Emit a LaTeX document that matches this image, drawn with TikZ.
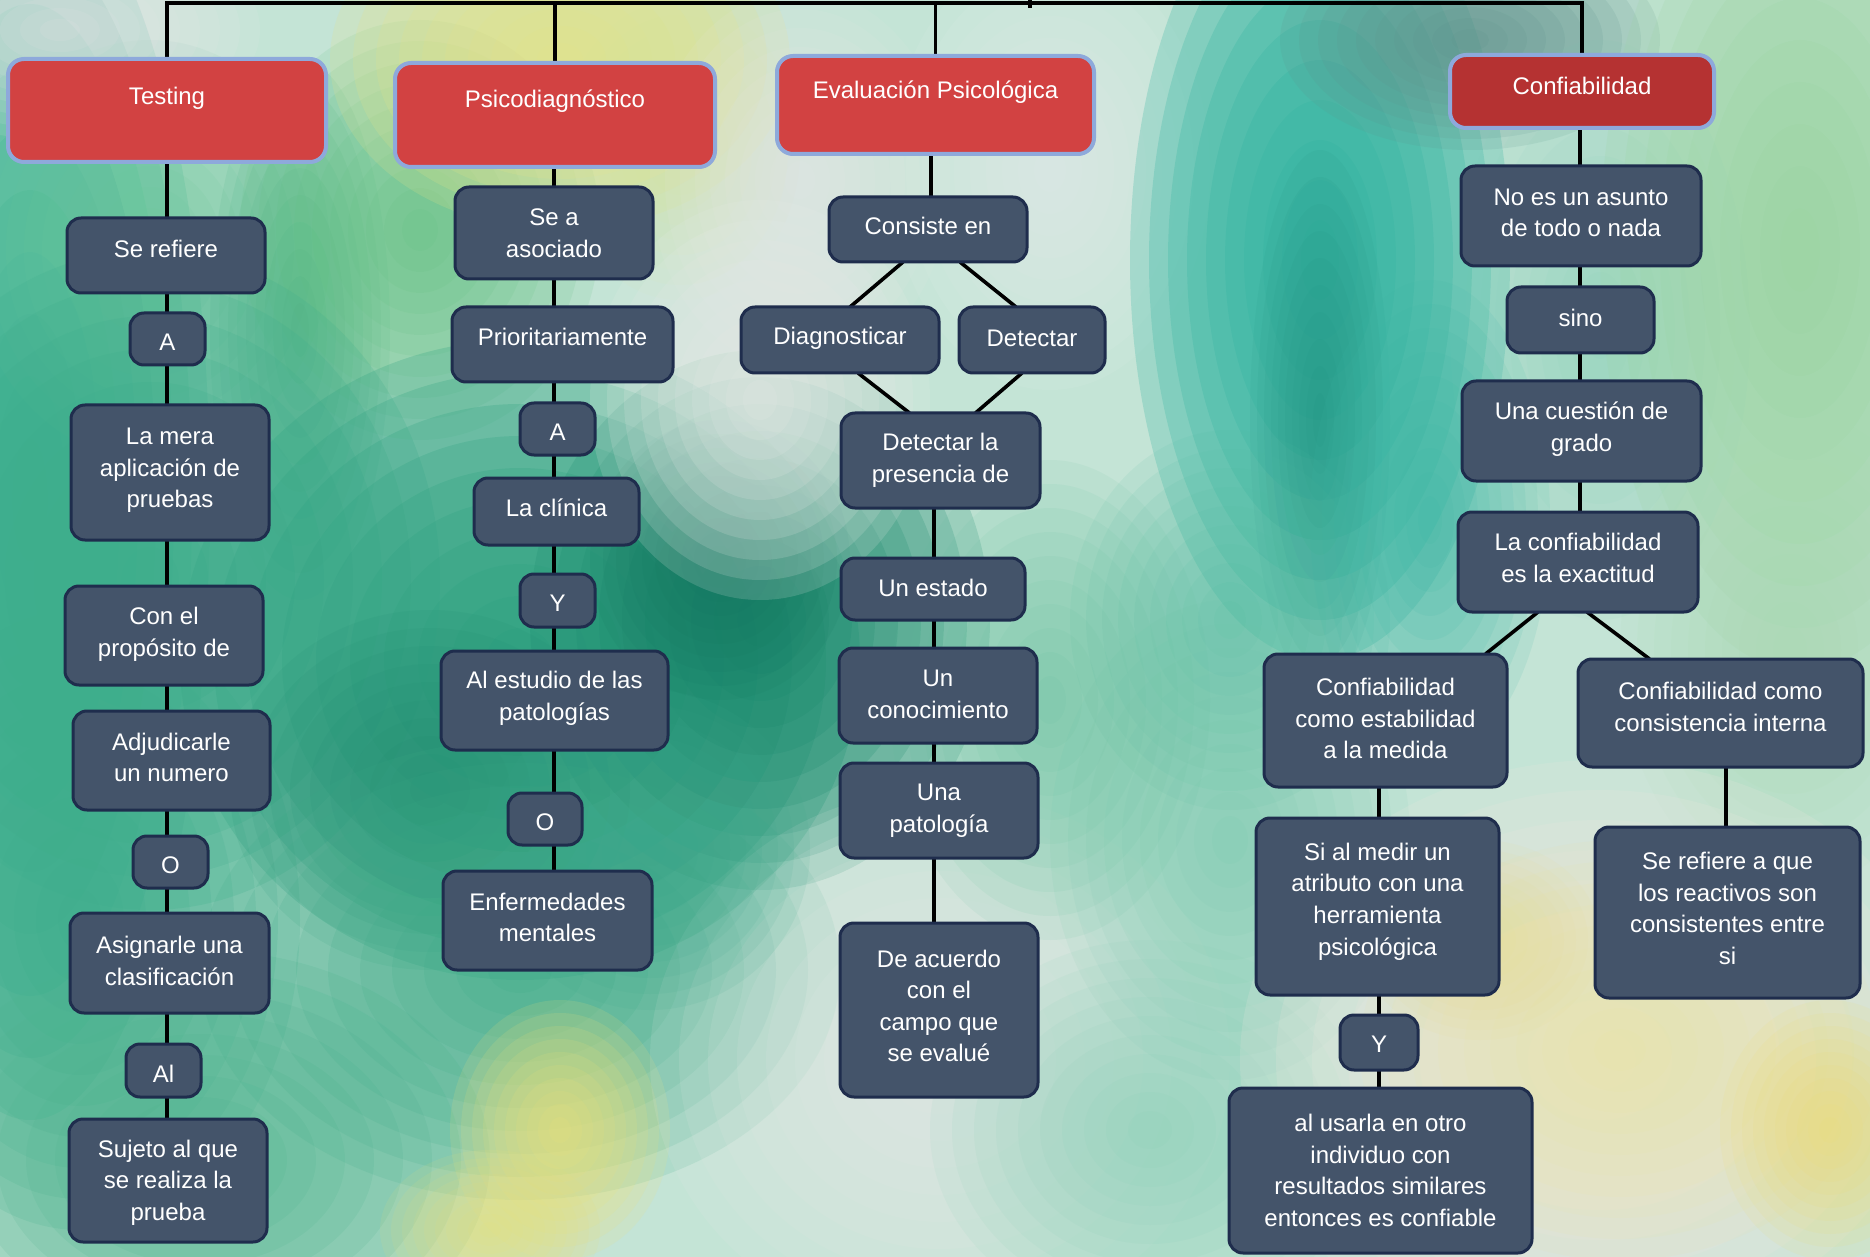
\documentclass[tikz,border=0pt]{standalone}
\usepackage{fontspec}
\setmainfont{Liberation Sans}
\usetikzlibrary{calc}
\pgfdeclarelayer{back}
\pgfdeclarelayer{lines}
\pgfsetlayers{back,lines,main}
\definecolor{boxfill}{HTML}{44546A}
\definecolor{boxline}{HTML}{1F2D4D}
\definecolor{redfill}{HTML}{D24242}
\definecolor{redfillB}{HTML}{B53232}
\definecolor{redline}{HTML}{8EA9DB}
\definecolor{bgbase}{HTML}{C4E4D6}
\tikzset{
  dbox/.style={draw=boxline, line width=1.5pt, fill=boxfill, rounded corners=7pt,
    inner sep=0pt, outer sep=0pt},
  dtext/.style={text=white, align=center, inner sep=0pt,
    font=\fontsize{12}{15.8}\selectfont},
  rbox/.style={draw=redline, line width=2pt, fill=redfill, rounded corners=8pt,
    inner sep=0pt, outer sep=0pt},
  htext/.style={text=white, font=\fontsize{12}{15.8}\selectfont, anchor=center, inner sep=0pt},
  conn/.style={draw=black, line width=1.8pt},
}
% name, x1, y1, x2, y2, text, vertical text shift (px, down positive)
\newcommand\mkbox[7]{%
  \node[dbox, minimum width={(#4-#2)*0.5pt}, minimum height={(#5-#3)*0.5pt}]
    (#1) at ({(#2+#4)/2},{(#3+#5)/2}) {};
  \node[dtext] (#1t) at ($(#1.center)+(0,#7)$) {#6};}
% name, x1, y1, x2, y2, fill, text, text offset from top
\newcommand\mkred[8]{%
  \node[rbox, fill=#6, minimum width={(#4-#2)*0.5pt}, minimum height={(#5-#3)*0.5pt},
    label={[htext, yshift={-#8*0.5pt}]north:#7}]
    (#1) at ({(#2+#4)/2},{(#3+#5)/2}) {};}
\newcommand\vlink[3]{\draw[conn] (#1.south -| #3) -- (#2.north -| #3);}
\begin{document}
\begin{tikzpicture}[x=0.5pt,y=-0.5pt]
\useasboundingbox (0,0) rectangle (1870,1257);
\begin{pgfonlayer}{back}
\fill[bgbase] (0,0) rectangle (1870,1257);
\begin{scope}
\clip (0,0) rectangle (1870,1257);
\foreach \x/\y/\a/\b/\c/\o in {
  30/500/180/620/3DB495/0.95,
  150/250/180/210/6CC79A/0.7,
  300/330/90/270/3FAE7E/0.7,
  420/230/180/210/5FC07E/0.75,
  560/60/230/170/E3E28A/0.9,
  680/150/120/150/D8E39A/0.55,
  60/30/200/110/ECE6EA/0.7,
  150/580/290/330/3EAE8C/0.9,
  80/920/220/310/3EAE8C/0.85,
  200/1160/290/210/4DB48E/0.8,
  520/660/340/320/2FA382/0.95,
  760/620/230/270/1A8A6E/0.9,
  720/560/130/140/13735E/0.65,
  430/790/200/180/1F8C70/0.7,
  520/970/320/230/3AAA86/0.8,
  560/1130/110/130/EDE27A/0.8,
  490/1230/110/80/E8E07A/0.7,
  760/400/170/200/E6EAE6/0.85,
  800/180/150/190/ECE8EA/0.65,
  940/1060/290/270/E6E9E6/0.75,
  1050/170/160/220/E4EEEA/0.7,
  1320/260/190/400/33B5A2/0.95,
  1320/420/70/270/1E8F7E/0.6,
  1230/620/160/190/4DBBA0/0.65,
  1430/520/120/240/3BB7A5/0.7,
  1470/40/190/110/5E928C/0.8,
  1230/840/180/240/6CC6A8/0.6,
  1150/1130/220/190/7ECDB2/0.6,
  1600/330/150/290/7ACDB4/0.5,
  1800/250/200/420/9AD5A0/0.85,
  1790/650/170/240/A8D9B0/0.65,
  1600/1060/360/300/F0E8E0/0.85,
  1620/1050/260/210/EFE39A/0.6,
  1830/1130/110/130/EEDC70/0.7,
  1480/940/120/100/EADF8A/0.55,
  1050/700/160/240/5EBF9A/0.6,
  650/850/160/160/3AA68A/0.65%
}{
  \definecolor{blobc}{HTML}{\c}
  \pgfmathsetmacro\stepop{1-(1-\o)^(0.1)}
  \foreach \k in {1,...,10}{
    \fill[blobc, opacity=\stepop] (\x,\y) ellipse ({\a*\k/10} and {\b*\k/10});
  }
}
\end{scope}
\end{pgfonlayer}

% headers
\mkred{testing}{8}{59}{326}{162}{redfill}{Testing}{39}
\mkred{psico}{395}{63}{715}{167}{redfill}{Psicodiagnóstico}{38}
\mkred{eval}{777}{56}{1094}{154}{redfill}{Evaluación Psicológica}{36}
\mkred{conf}{1450}{55}{1714}{128}{redfillB}{Confiabilidad}{31}

% Testing column
\mkbox{serefiere}{67}{218}{265}{293}{Se refiere}{-7}
\mkbox{aT}{130}{313}{205}{365}{A}{3}
\mkbox{lamera}{71}{405}{269}{540}{La mera\\aplicación de\\pruebas}{-2}
\mkbox{conel}{65}{586}{263}{685}{Con el\\propósito de}{-1}
\mkbox{adjud}{73}{711}{270}{810}{Adjudicarle\\un numero}{-3}
\mkbox{oT}{133}{836}{208}{888}{O}{3}
\mkbox{asign}{70}{913}{269}{1013}{Asignarle una\\clasificación}{-2}
\mkbox{alT}{126}{1044}{201}{1097}{Al}{3}
\mkbox{sujeto}{69}{1119}{267}{1242}{Sujeto al que\\se realiza la\\prueba}{2}

% Psicodiagnostico column
\mkbox{seaso}{455}{187}{653}{279}{Se a\\asociado}{0}
\mkbox{prio}{452}{307}{673}{382}{Prioritariamente}{-8}
\mkbox{aP}{520}{403}{595}{455}{A}{3}
\mkbox{clinica}{474}{478}{639}{545}{La clínica}{-4}
\mkbox{yP}{520}{574}{595}{627}{Y}{3}
\mkbox{estudio}{441}{651}{668}{750}{Al estudio de las\\patologías}{-2}
\mkbox{oP}{508}{793}{582}{845}{O}{3}
\mkbox{enferm}{443}{871}{652}{970}{Enfermedades\\mentales}{-3}

% Evaluacion column
\mkbox{consiste}{829}{197}{1027}{262}{Consiste en}{-4}
\mkbox{diag}{741}{307}{939}{373}{Diagnosticar}{-2}
\mkbox{detectar}{959}{307}{1105}{373}{Detectar}{-2}
\mkbox{presencia}{841}{413}{1040}{508}{Detectar la\\presencia de}{0}
\mkbox{estado}{841}{558}{1025}{620}{Un estado}{-1}
\mkbox{conoc}{839}{648}{1037}{743}{Un\\conocimiento}{-1}
\mkbox{patol}{840}{763}{1038}{858}{Una\\patología}{0}
\mkbox{acuerdo}{840}{923}{1038}{1097}{De acuerdo\\con el\\campo que\\se evalué}{-4}

% Confiabilidad column
\mkbox{noes}{1461}{166}{1701}{266}{No es un asunto\\de todo o nada}{-3}
\mkbox{sino}{1507}{287}{1654}{353}{sino}{-2}
\mkbox{cuestion}{1462}{381}{1701}{481}{Una cuestión de\\grado}{-2}
\mkbox{laconf}{1458}{512}{1698}{612}{La confiabilidad\\es la exactitud}{-4}
\mkbox{estab}{1264}{654}{1507}{787}{Confiabilidad\\como estabilidad\\a la medida}{-2}
\mkbox{consist}{1578}{659}{1863}{767}{Confiabilidad como\\consistencia interna}{-6}
\mkbox{simedir}{1256}{818}{1499}{995}{Si al medir un\\atributo con una\\herramienta\\psicológica}{-5}
\mkbox{yC}{1340}{1015}{1418}{1070}{Y}{2}
\mkbox{alusarla}{1229}{1088}{1532}{1253}{al usarla en otro\\individuo con\\resultados similares\\entonces es confiable}{0}
\mkbox{serefa}{1595}{827}{1860}{998}{Se refiere a que\\los reactivos son\\consistentes entre\\si}{-4}

\coordinate (cT) at (167,0);
\coordinate (cP) at (554,0);
\coordinate (cE0) at (931,0);
\coordinate (cE) at (934,0);
\coordinate (cC) at (1580,0);
\coordinate (cS) at (1379,0);
\coordinate (cR) at (1726,0);
\coordinate (bar) at (1030,3);
\coordinate (root) at (1030,-2);

\begin{pgfonlayer}{lines}
\draw[conn] (testing.north) |- (bar) -| (conf.north);
\draw[conn] (psico.north) -- (psico.north |- bar);
\draw[conn] (eval.north) -- (eval.north |- bar);
\draw[conn] (root) -- ($(bar)+(0,5)$);

\vlink{testing}{serefiere}{cT}
\vlink{serefiere}{aT}{cT}
\vlink{aT}{lamera}{cT}
\vlink{lamera}{conel}{cT}
\vlink{conel}{adjud}{cT}
\vlink{adjud}{oT}{cT}
\vlink{oT}{asign}{cT}
\vlink{asign}{alT}{cT}
\vlink{alT}{sujeto}{cT}

\vlink{psico}{seaso}{cP}
\vlink{seaso}{prio}{cP}
\vlink{prio}{aP}{cP}
\vlink{aP}{clinica}{cP}
\vlink{clinica}{yP}{cP}
\vlink{yP}{estudio}{cP}
\vlink{estudio}{oP}{cP}
\vlink{oP}{enferm}{cP}

\vlink{eval}{consiste}{cE0}
\draw[conn] ($(consiste.south)+(-25,0)$) -- ($(diag.north)+(10,0)$);
\draw[conn] ($(consiste.south)+(32,0)$) -- ($(detectar.north)+(-16,0)$);
\draw[conn] ($(diag.south)+(18,0)$) -- ($(presencia.north)+(-31,0)$);
\draw[conn] ($(detectar.south)+(-10,0)$) -- ($(presencia.north)+(35,0)$);
\vlink{presencia}{estado}{cE}
\vlink{estado}{conoc}{cE}
\vlink{conoc}{patol}{cE}
\vlink{patol}{acuerdo}{cE}

\vlink{conf}{noes}{cC}
\vlink{noes}{sino}{cC}
\vlink{sino}{cuestion}{cC}
\vlink{cuestion}{laconf}{cC}
\draw[conn] ($(laconf.south)+(-40,0)$) -- ($(estab.north)+(100,0)$);
\draw[conn] ($(laconf.south)+(9,0)$) -- ($(consist.north)+(-71,0)$);
\vlink{estab}{simedir}{cS}
\vlink{simedir}{yC}{cS}
\vlink{yC}{alusarla}{cS}
\vlink{consist}{serefa}{cR}
\end{pgfonlayer}
\end{tikzpicture}
\end{document}
